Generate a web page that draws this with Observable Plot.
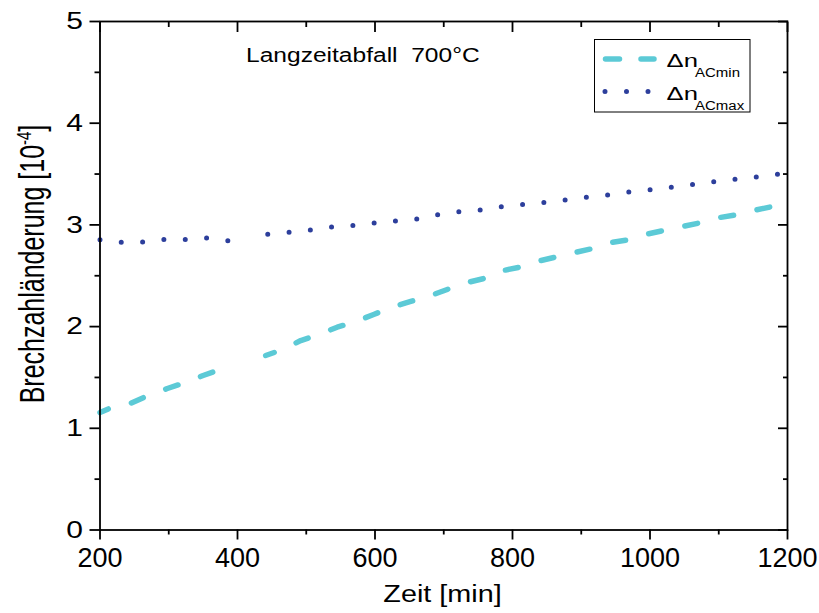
<!DOCTYPE html>
<html><head><meta charset="utf-8">
<script src="https://cdn.jsdelivr.net/npm/d3@7"></script>
<script src="https://cdn.jsdelivr.net/npm/@observablehq/plot@0.6"></script>
<style>
body{margin:0;background:#fff;}
#wrap{position:relative;width:819px;height:613px;font-family:"Liberation Sans",Arial,sans-serif;}
#legend{position:absolute;left:594px;top:39px;}
</style></head><body><div id="wrap"></div>
<script>
// ---- data ----
const minTime  = [200, 217, 244, 270, 298, 324, 350, 375, 386, 413, 441, 466, 492, 521, 545, 572, 598, 624, 652, 677, 705, 730, 757, 782, 810, 835, 862, 889, 915, 941, 968, 993, 1020, 1047, 1073, 1099, 1126, 1151, 1178, 1200];
const minValue = [1.155, 1.205, 1.244, 1.323, 1.391, 1.45, 1.519, 1.578, 1.59, null, 1.716, 1.775, 1.863, 1.929, 1.994, 2.05, 2.119, 2.19, 2.247, 2.296, 2.365, 2.427, 2.47, 2.545, 2.584, 2.64, 2.682, 2.726, 2.765, 2.824, 2.853, 2.906, 2.945, 2.984, 3.021, 3.07, 3.099, 3.142, 3.181, 3.223];
const maxTime  = [200, 227, 259, 289, 323, 353, 387, 414, 444, 476, 506, 538, 569, 601, 633, 666, 696, 727, 759, 791, 822, 854, 886, 917, 949, 980, 1012, 1043, 1075, 1107, 1138, 1170, 1200];
const maxValue = [2.854, 2.83, 2.83, 2.856, 2.856, 2.873, 2.844, null, 2.909, 2.928, 2.95, 2.98, 2.994, 3.02, 3.04, 3.06, 3.109, 3.132, 3.151, 3.188, 3.203, 3.227, 3.253, 3.279, 3.302, 3.335, 3.351, 3.384, 3.407, 3.44, 3.456, 3.483, 3.512];
const xMajor = [200, 400, 600, 800, 1000, 1200];
const xMinor = [300, 500, 700, 900, 1100];
const yMajor = [0, 1, 2, 3, 4, 5];
const yMinor = [0.5, 1.5, 2.5, 3.5, 4.5];
const seriesNames = ["ACmin", "ACmax"];
const annotation = "Langzeitabfall\u00a0\u00a0700°C";
const xTitle = "Zeit [min]";
const yTitle = ["Brechzahländerung [10", "-4", "]"];

const cMin = "#5ccad6", cMax = "#2d3f9c";
const minData = minTime.map((t, i) => ({t, v: minValue[i]}));
const maxData = maxTime.map((t, i) => ({t, v: maxValue[i]}));
const font = "'Liberation Sans', Arial, sans-serif";
const sw = 1.8;

const chart = Plot.plot({
  width: 819, height: 613,
  marginLeft: 99.5, marginRight: 32, marginTop: 21, marginBottom: 83.5,
  style: {fontFamily: font, background: "white", color: "black"},
  x: {domain: [200, 1200]},
  y: {domain: [0, 5]},
  marks: [
    Plot.line(minData, {x: "t", y: "v", stroke: cMin, strokeWidth: 5.5, strokeDasharray: "13,24", strokeDashoffset: 4, strokeLinecap: "round"}),
    Plot.line(maxData, {x: "t", y: "v", stroke: cMax, strokeWidth: 5, strokeDasharray: "0,21.4", strokeLinecap: "round"}),
    Plot.axisX(xMajor, {anchor: "bottom", tickSize: 10, tickPadding: 8, fontSize: 27, strokeWidth: sw, label: null, tickFormat: d => String(d)}),
    Plot.axisX(xMinor, {anchor: "bottom", tickSize: 5, strokeWidth: sw, label: null, tickFormat: () => ""}),
    Plot.axisX(xMajor, {anchor: "top", tickSize: -10, strokeWidth: sw, label: null, tickFormat: () => ""}),
    Plot.axisX(xMinor, {anchor: "top", tickSize: -5, strokeWidth: sw, label: null, tickFormat: () => ""}),
    Plot.axisY(yMajor, {anchor: "left", tickSize: 10, tickPadding: 7, fontSize: 24, strokeWidth: sw, label: null, tickFormat: d => String(d)}),
    Plot.axisY(yMinor, {anchor: "left", tickSize: 5, strokeWidth: sw, label: null, tickFormat: () => ""}),
    Plot.axisY(yMajor, {anchor: "right", tickSize: -10, strokeWidth: sw, label: null, tickFormat: () => ""}),
    Plot.axisY(yMinor, {anchor: "right", tickSize: -5, strokeWidth: sw, label: null, tickFormat: () => ""}),
    Plot.frame({stroke: "black", strokeWidth: sw})
  ]
});
document.getElementById("wrap").appendChild(chart);

// widen tick labels horizontally around their anchor point (keeps y attributes intact)
function stretch(t, s) {
  const xa = t.getAttribute("x");
  const x = xa != null && !isNaN(+xa) ? +xa : 0;
  const tr = t.getAttribute("transform") || "";
  t.setAttribute("transform", `${tr} translate(${x},0) scale(${s},1) translate(${-x},0)`);
}
const svg = d3.select(chart);
svg.selectAll('g[aria-label="y-axis tick label"] text').each(function() { stretch(this, 1.25); });

// annotation
svg.append("text").attr("transform", "translate(246,61.5) scale(1.17,1)")
  .attr("text-anchor", "start").attr("font-size", 21).attr("font-family", font).attr("fill", "black").text(annotation);
// x title
svg.append("text").attr("transform", "translate(442.5,602) scale(1.2,1)")
  .attr("text-anchor", "middle").attr("font-size", 24).attr("font-family", font).attr("fill", "black").text(xTitle);
// y title
const yt = svg.append("text").attr("transform", "translate(43.5,264) rotate(-90) scale(1,1.38)")
  .attr("text-anchor", "middle").attr("font-size", 25).attr("font-family", font).attr("fill", "black");
yt.append("tspan").text(yTitle[0]);
yt.append("tspan").attr("dy", -9).attr("font-size", 15).text(yTitle[1]);
yt.append("tspan").attr("dy", 9).text(yTitle[2]);

// legend
const lg = d3.select("#wrap").append("svg").attr("id", "legend").attr("width", 157).attr("height", 75);
lg.append("rect").attr("x", 0.5).attr("y", 0.5).attr("width", 155.5).attr("height", 72.5)
  .attr("fill", "white").attr("stroke", "black").attr("stroke-width", 1);
const rows = [
  {y: 20, stroke: cMin, w: 5.5, dash: "14,21.5", x1: 11.5, x2: 60},
  {y: 52.5, stroke: cMax, w: 5, dash: "0,21.5", x1: 11, x2: 55}
];
rows.forEach((r, i) => {
  lg.append("line").attr("x1", r.x1).attr("x2", r.x2).attr("y1", r.y).attr("y2", r.y)
    .attr("stroke", r.stroke).attr("stroke-width", r.w).attr("stroke-dasharray", r.dash).attr("stroke-linecap", "round");
  lg.append("text").attr("transform", `translate(72.5,${r.y + 8}) scale(1.35,1)`)
    .attr("font-size", 19).attr("font-family", font).text("Δn");
  lg.append("text").attr("transform", `translate(101,${r.y + 18}) scale(1.25,1)`)
    .attr("font-size", 12).attr("font-family", font).text(seriesNames[i]);
});
</script>
</body></html>
